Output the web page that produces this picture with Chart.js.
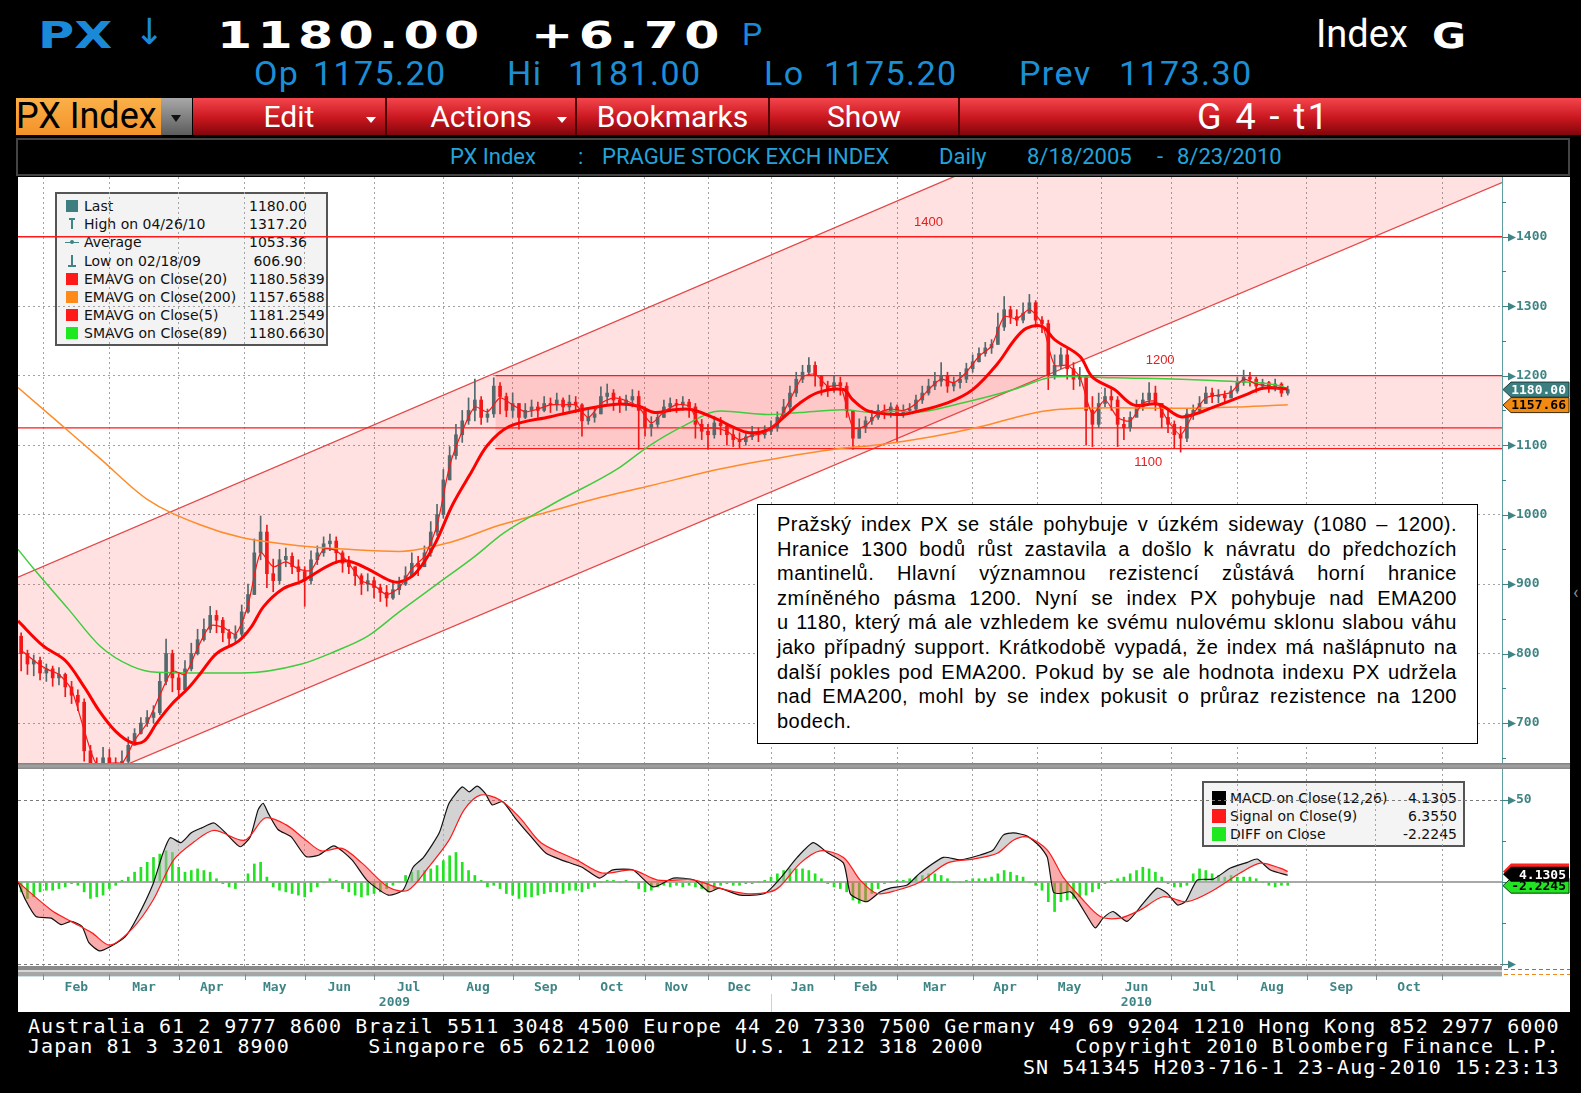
<!DOCTYPE html>
<html>
<head>
<meta charset="utf-8">
<title>PX Index - Bloomberg G</title>
<script src="https://cdn.jsdelivr.net/npm/chart.js@4.4.1/dist/chart.umd.min.js"></script>
<style>
  html, body { margin: 0; padding: 0; }
  body { width: 1581px; height: 1093px; background: #000; position: relative; overflow: hidden; font-family: Roboto, "Liberation Sans", sans-serif; }
  .t { position: absolute; white-space: pre; line-height: 1; }
  .big { font-family: "DejaVu Sans"; font-weight: bold; font-size: 38px; color: #fff; letter-spacing: 4px; transform-origin: 0 0; transform: scaleX(1.33); }
  .r2 { font-size: 34px; color: #1c8ed6; letter-spacing: 1.4px; top: 56px; }
  .btn { position: absolute; top: 98px; height: 37px; background: linear-gradient(#f4454c, #c8161e 55%, #80060b); border-right: 2px solid #4d0306; box-sizing: border-box; color: #fff; font-size: 30px; line-height: 37px; text-align: center; }
  .tri { position: absolute; top: 117px; width: 0; height: 0; border-left: 5px solid transparent; border-right: 5px solid transparent; border-top: 6px solid #fff; }
  .ttl { font-size: 22px; color: #23a3da; top: 146px; }
  .foot { position: absolute; left: 28px; color: #fff; font-family: "DejaVu Sans Mono", monospace; font-size: 20px; letter-spacing: 1.05px; line-height: 20px; white-space: pre; }
  .legend { position: absolute; background: #f3f3f3; border: 2px solid #555; box-sizing: border-box; font-family: "DejaVu Sans", sans-serif; font-size: 14px; color: #111; z-index: 1; }
  .lr { position: absolute; left: 0; right: 0; height: 18px; line-height: 18px; white-space: pre; }
  .ic { position: absolute; top: 3px; width: 12px; height: 12px; }
  #note { position: absolute; left: 757px; top: 504px; width: 721px; height: 240px; box-sizing: border-box; border: 1.5px solid #000; background: #fff; padding: 7px 19px 0 19px; z-index: 3; font: 20px/24.6px "Liberation Sans", Arial, sans-serif; letter-spacing: 0.5px; color: #000; }
  #note div { white-space: nowrap; }
  canvas { position: absolute; z-index: 2; }
</style>
</head>
<body>

<!-- quote header -->
<div class="t" style="left:38px;top:16px;font-family:'DejaVu Sans';font-weight:bold;font-size:38px;color:#1a8ad8;transform-origin:0 0;transform:scaleX(1.3)">PX</div>
<div class="t" style="left:134px;top:14px;font-family:'DejaVu Sans';font-size:36px;color:#1a8ad8">↓</div>
<div class="t big" style="left:217px;top:16px">1180.00</div>
<div class="t big" style="left:531px;top:16px">+6.70</div>
<div class="t" style="left:742px;top:18px;font-size:32px;color:#1a8ad8">P</div>
<div class="t" style="left:1316px;top:15px;font-size:38px;color:#fff">Index</div>
<div class="t" style="left:1432px;top:18px;font-family:'DejaVu Sans';font-weight:bold;font-size:36px;color:#fff;transform-origin:0 0;transform:scaleX(1.15)">G</div>

<div class="t r2" style="left:254px">Op</div>
<div class="t r2" style="left:313px">1175.20</div>
<div class="t r2" style="left:507px">Hi</div>
<div class="t r2" style="left:568px">1181.00</div>
<div class="t r2" style="left:764px">Lo</div>
<div class="t r2" style="left:824px">1175.20</div>
<div class="t r2" style="left:1019px">Prev</div>
<div class="t r2" style="left:1119px">1173.30</div>

<!-- menu bar -->
<div style="position:absolute;left:16px;top:98px;width:145px;height:37px;background:linear-gradient(#fbb048,#f4922a);color:#000;font-size:36px;line-height:37px;white-space:pre;overflow:hidden">PX Index</div>
<div style="position:absolute;left:161px;top:98px;width:31px;height:37px;background:linear-gradient(#a8a8a8,#5c5c5c);"></div>
<div style="position:absolute;left:171px;top:115px;width:0;height:0;border-left:5px solid transparent;border-right:5px solid transparent;border-top:7px solid #111"></div>
<div class="btn" style="left:193px;width:194px;">Edit</div>
<div class="tri" style="left:366px"></div>
<div class="btn" style="left:387px;width:190px;">Actions</div>
<div class="tri" style="left:557px"></div>
<div class="btn" style="left:577px;width:193px;">Bookmarks</div>
<div class="btn" style="left:770px;width:190px;">Show</div>
<div class="btn" style="left:960px;width:621px;border-right:none;"></div>
<div class="t" style="left:1197px;top:99px;font-size:36px;color:#fff;letter-spacing:2.5px;line-height:37px">G 4 - t1</div>

<!-- title bar -->
<div style="position:absolute;left:16px;top:138px;width:1554px;height:38px;box-sizing:border-box;border:2px solid #444;background:#000"></div>
<div class="t ttl" style="left:450px">PX Index</div>
<div class="t ttl" style="left:578px">:</div>
<div class="t ttl" style="left:602px">PRAGUE STOCK EXCH INDEX</div>
<div class="t ttl" style="left:939px">Daily</div>
<div class="t ttl" style="left:1027px">8/18/2005</div>
<div class="t ttl" style="left:1157px">-</div>
<div class="t ttl" style="left:1177px">8/23/2010</div>

<!-- chart area background -->
<div style="position:absolute;left:18px;top:177px;width:1552px;height:835px;background:#fff;z-index:0"></div>
<div class="t" style="left:1573px;top:583px;font-size:18px;color:#888">‹</div>

<div id="legMain" class="legend" style="left:55px;top:192px;width:273px;height:154px"></div>
<div id="legMacd" class="legend" style="left:1202px;top:781px;width:263px;height:66px;background:#f4f4f4"></div>

<canvas id="main" width="1552" height="586" style="left:18px;top:177px"></canvas>
<div style="position:absolute;left:18px;top:763px;width:1552px;height:6px;background:linear-gradient(#7e7e7e,#a4a4a4,#868686);z-index:3"></div>
<canvas id="macd" width="1552" height="243" style="left:18px;top:769px"></canvas>

<div id="note">
<div><span>Pražský index PX se stále pohybuje v úzkém sideway (1080 – 1200).</span></div>
<div><span>Hranice 1300 bodů růst zastavila a došlo k návratu do předchozích</span></div>
<div><span>mantinelů. Hlavní významnou rezistencí zůstává horní hranice</span></div>
<div><span>zmíněného pásma 1200. Nyní se index PX pohybuje nad EMA200</span></div>
<div><span>u 1180, který má ale vzhledem ke svému nulovému sklonu slabou váhu</span></div>
<div><span>jako případný support. Krátkodobě vypadá, že index má našlápnuto na</span></div>
<div><span>další pokles pod EMA200. Pokud by se ale hodnota indexu PX udržela</span></div>
<div><span>nad EMA200, mohl by se index pokusit o průraz rezistence na 1200</span></div>
<div class="last"><span>bodech.</span></div>
</div>

<!-- footer -->
<div class="foot" style="top:1016px">Australia 61 2 9777 8600 Brazil 5511 3048 4500 Europe 44 20 7330 7500 Germany 49 69 9204 1210 Hong Kong 852 2977 6000</div>
<div class="foot" style="top:1036px">Japan 81 3 3201 8900      Singapore 65 6212 1000      U.S. 1 212 318 2000       Copyright 2010 Bloomberg Finance L.P.</div>
<div class="foot" style="top:1057px">                                                                            SN 541345 H203-716-1 23-Aug-2010 15:23:13</div>

<script>
// x axis unit: trading days counted from the left edge of the plot (about 20 Jan 2009)
const xMax = 471;
const monthStarts = [8, 29, 51, 72, 91, 113, 135, 157, 178, 199, 219, 239, 259, 279, 303, 323.5, 344, 366, 387, 409, 431, 452];
const monthNames = ['Feb', 'Mar', 'Apr', 'May', 'Jun', 'Jul', 'Aug', 'Sep', 'Oct', 'Nov', 'Dec',
                    'Jan', 'Feb', 'Mar', 'Apr', 'May', 'Jun', 'Jul', 'Aug', 'Sep', 'Oct'];
const yearNames = ['2009', '2010'];
const yearDays = [119.5, 355];
const yearBreak = 239;

// candles, one every 2 trading days
const startDay = 1;
const dayStep = 2;
const firstOpen = 825;
const closes = [
  800, 785, 790, 772, 778, 765, 770, 752, 740, 730,
  660, 640, 625, 650, 640, 632, 645, 668, 685, 700,
  708, 715, 760, 800, 765, 748, 778, 800, 820, 835,
  855, 848, 830, 822, 828, 860, 885, 945, 975, 915,
  905, 935, 940, 925, 918, 905, 935, 945, 958, 962,
  945, 930, 925, 912, 900, 905, 895, 888, 880, 892,
  900, 912, 930, 925, 945, 975, 1000, 1050, 1085, 1115,
  1135, 1150, 1165, 1140, 1145, 1185, 1170, 1150, 1160, 1140,
  1150, 1155, 1150, 1160, 1158, 1165, 1155, 1162, 1158, 1135,
  1140, 1145, 1170, 1175, 1165, 1160, 1165, 1170, 1150, 1125,
  1130, 1140, 1155, 1160, 1158, 1162, 1155, 1130, 1120, 1115,
  1132, 1128, 1115, 1108, 1105, 1112, 1118, 1115, 1120, 1125,
  1140, 1155, 1175, 1195, 1205, 1215, 1200, 1185, 1180, 1190,
  1185, 1150, 1110, 1125, 1135, 1140, 1150, 1148, 1155, 1145,
  1150, 1152, 1165, 1175, 1185, 1192, 1200, 1185, 1190, 1195,
  1210, 1220, 1232, 1240, 1245, 1270, 1295, 1285, 1280, 1290,
  1305, 1280, 1275, 1200, 1215, 1230, 1210, 1195, 1200, 1150,
  1130, 1160, 1170, 1165, 1130, 1125, 1140, 1155, 1165, 1175,
  1160, 1140, 1130, 1115, 1110, 1145, 1150, 1160, 1175, 1170,
  1172, 1168, 1178, 1190, 1198, 1195, 1185, 1190, 1182, 1188,
  1175, 1180
];
const highs = [
  830, 805, 798, 795, 785, 782, 780, 772, 760, 748,
  735, 668, 650, 665, 662, 650, 660, 680, 692, 708,
  718, 725, 773, 821, 805, 772, 790, 815, 835, 850,
  868, 862, 852, 835, 840, 870, 900, 965, 998, 985,
  936, 950, 952, 945, 935, 925, 948, 955, 968, 972,
  968, 948, 940, 925, 915, 915, 910, 900, 898, 905,
  910, 925, 945, 940, 955, 990, 1015, 1065, 1098, 1130,
  1150, 1168, 1195, 1170, 1152, 1197, 1190, 1175, 1175, 1160,
  1160, 1165, 1162, 1170, 1168, 1175, 1168, 1172, 1170, 1160,
  1152, 1155, 1184, 1188, 1180, 1170, 1172, 1180, 1178, 1155,
  1141, 1148, 1165, 1168, 1166, 1170, 1166, 1160, 1137, 1130,
  1141, 1140, 1130, 1123, 1118, 1120, 1127, 1125, 1128, 1135,
  1148, 1166, 1185, 1205, 1215, 1226, 1220, 1200, 1192, 1199,
  1198, 1190, 1150, 1138, 1141, 1150, 1158, 1158, 1161, 1158,
  1158, 1160, 1172, 1185, 1195, 1205, 1219, 1205, 1198, 1205,
  1218, 1230, 1240, 1248, 1252, 1290, 1314, 1300, 1295, 1305,
  1317, 1308, 1285, 1280, 1230, 1240, 1238, 1219, 1212, 1200,
  1170, 1175, 1182, 1180, 1170, 1140, 1148, 1165, 1175, 1190,
  1185, 1160, 1150, 1135, 1127, 1152, 1158, 1170, 1184, 1182,
  1180, 1178, 1185, 1198, 1208, 1205, 1198, 1195, 1192, 1195,
  1190, 1185
];
const lows = [
  775, 770, 768, 762, 760, 753, 755, 738, 728, 718,
  645, 607, 612, 618, 625, 618, 628, 642, 668, 684,
  695, 700, 712, 755, 745, 735, 745, 775, 798, 818,
  830, 830, 817, 812, 815, 825, 858, 885, 935, 895,
  889, 900, 925, 915, 905, 868, 900, 928, 940, 948,
  930, 917, 915, 898, 885, 890, 880, 875, 868, 878,
  885, 898, 910, 912, 925, 940, 970, 995, 1050, 1080,
  1104, 1130, 1135, 1130, 1133, 1140, 1145, 1141, 1140, 1123,
  1138, 1141, 1140, 1148, 1147, 1150, 1145, 1150, 1147, 1113,
  1130, 1133, 1145, 1160, 1150, 1147, 1150, 1155, 1094, 1113,
  1113, 1125, 1140, 1148, 1147, 1150, 1140, 1110, 1108, 1094,
  1110, 1115, 1100, 1098, 1095, 1100, 1108, 1105, 1110, 1115,
  1120, 1140, 1150, 1170, 1190, 1200, 1185, 1172, 1170, 1176,
  1172, 1140, 1094, 1110, 1118, 1130, 1137, 1138, 1140, 1104,
  1140, 1145, 1150, 1160, 1172, 1180, 1185, 1176, 1178, 1182,
  1190, 1205, 1220, 1228, 1232, 1245, 1265, 1275, 1272, 1276,
  1290, 1270, 1262, 1180, 1195, 1210, 1195, 1180, 1185, 1100,
  1098, 1125, 1155, 1150, 1098, 1108, 1120, 1145, 1150, 1160,
  1150, 1125, 1118, 1095, 1090, 1105, 1137, 1145, 1160, 1161,
  1161, 1160, 1168, 1175, 1186, 1185, 1176, 1180, 1176, 1178,
  1170, 1172
];

// moving averages
const ema5Start = 1;
const ema5Step = 4;
const ema5 = [
  805, 790, 778, 770, 748, 690, 640, 642, 642, 675,
  700, 740, 775, 770, 808, 840, 838, 828, 870, 945,
  925, 932, 922, 920, 950, 948, 930, 905, 898, 885,
  895, 922, 940, 985, 1070, 1120, 1155, 1148, 1168, 1158,
  1148, 1152, 1158, 1158, 1158, 1140, 1160, 1168, 1164, 1155,
  1132, 1148, 1158, 1156, 1125, 1125, 1120, 1108, 1114, 1118,
  1133, 1165, 1198, 1202, 1185, 1185, 1125, 1128, 1146, 1152,
  1150, 1160, 1180, 1195, 1190, 1205, 1228, 1243, 1285, 1282,
  1295, 1275, 1215, 1215, 1198, 1145, 1165, 1140, 1135, 1160,
  1163, 1135, 1115, 1145, 1168, 1172, 1176, 1195, 1188, 1185,
  1180
];
const ema20Days = [0, 8, 15, 21, 26, 31, 36, 40, 44, 49, 54, 58, 63, 70, 74, 78, 84, 90, 100, 105,
  111, 118, 121, 126, 132, 138, 144, 149, 156, 169, 179, 190, 197, 202, 208, 214, 222, 227, 232, 238,
  243, 248, 254, 262, 265, 270, 280, 284, 295, 303, 311, 316, 320, 325, 329, 337, 341, 348, 354, 362,
  369, 375, 379, 390, 395, 403];
const ema20 = [847, 811, 790, 752, 716, 688, 672, 674, 700, 728, 750, 772, 800, 818, 838, 868, 893, 904, 930, 933,
  922, 905, 903, 915, 955, 1015, 1062, 1100, 1127, 1141, 1151, 1159, 1156, 1147, 1151, 1151, 1137, 1126, 1118, 1122,
  1140, 1160, 1176, 1180, 1165, 1149, 1144, 1147, 1161, 1180, 1218, 1250, 1268, 1271, 1252, 1228, 1198, 1180, 1158, 1159,
  1141, 1147, 1154, 1173, 1182, 1181];
const sma89Days = [0, 5, 16, 26, 36, 44, 58, 71, 90, 100, 111, 121, 133, 145, 154, 170, 190, 200, 211, 223,
  238, 248, 262, 271, 280, 284, 300, 316, 327, 333, 348, 369, 385, 401, 403];
const sma89 = [950, 922, 864, 811, 782, 773, 772, 772, 785, 802, 825, 860, 900, 940, 973, 1016, 1065, 1098, 1127, 1149,
  1144, 1147, 1151, 1147, 1149, 1147, 1161, 1180, 1197, 1199, 1197, 1195, 1192, 1185, 1181];
const ema200Days = [0, 13, 26, 41, 58, 71, 90, 105, 121, 137, 153, 169, 185, 201, 222, 242, 259, 274, 290, 305,
  321, 329, 348, 369, 388, 403];
const ema200 = [1183, 1132, 1081, 1022, 985, 967, 955, 950, 947, 960, 985, 1005, 1025, 1042, 1065, 1082, 1094, 1101, 1112, 1126,
  1145, 1151, 1154, 1153, 1155, 1158];

// hand-drawn analysis lines
const channelDays = [0, 471];
const channelUpper = [910, 1824];
const channelLower = [574, 1478];
const topLine = [1400, 1400];
const supportLine = [1125, 1125];
const rangeDays = [151.5, 471];
const rangeTop = [1200, 1200];
const rangeBottom = [1095, 1095];
const levelLabels = ['1400', '1200', '1100'];
const levelLabelDays = [289, 362.5, 358.7];
const levelLabelVals = [1420, 1222, 1075];

const priceTicks = [650, 700, 750, 800, 850, 900, 950, 1000, 1050, 1100, 1150, 1200, 1250, 1300, 1350, 1400, 1450];
const priceMin = 642.5, priceMax = 1486;
const lastPrice = 1180.00, lastEma200 = 1157.66;

// MACD panel
const macdDays = [0, 2.4, 5.7, 10.5, 13.7, 16.8, 20.3, 22.5, 25.9, 29.2, 34, 38, 42.9, 46, 48.3, 51.7, 55, 58.3, 62.2, 65.6,
  70.5, 73.7, 76.2, 77.8, 79.4, 82.5, 86.7, 91.4, 95.6, 100.3, 106, 110.8, 117.5, 122.2, 125.4, 128.7, 133.7, 136.8, 141, 143.2,
  145.7, 148.3, 150.5, 153.8, 157.8, 162.9, 167.6, 172.4, 179, 184.6, 188.6, 195.2, 201.6, 208, 214.6, 219.4, 222.5, 229.2, 237, 242,
  247.3, 252.4, 256.8, 262, 264.1, 266.3, 269.5, 273.7, 276.8, 282.2, 286.3, 293.7, 299, 305.4, 309.5, 312.7, 315.9, 320.3, 324.4, 326.7,
  328.6, 330.8, 334, 336.2, 339.4, 341.9, 344.4, 347.6, 352, 357.1, 361.6, 364.8, 368, 370.5, 374.3, 379.4, 384.8, 390.2, 393.3, 397.5,
  403];
const macd = [0, -11, -21, -22, -26, -24, -27, -37, -42, -39.5, -33.5, -21, -1, 17.5, 27, 24, 30, 33, 36, 30.5,
  21.5, 27.5, 44, 48, 42, 32, 27.5, 15.5, 16.5, 22, 13.5, 1, -8, -5, 9, 15, 30, 48, 58, 55,
  58.5, 54, 47, 49, 39, 27.5, 17.5, 13.5, 9, 2.4, 7.3, 7.3, -3, 2.4, 1.2, -6, -3.7, -8, -7, 2.4,
  15, 24, 18, 11.5, -7, -10, -12, -6, -3.7, -1.8, 5.5, 15, 13.5, 16.5, 19.5, 28.6, 30, 28, 21.5, 15,
  -6, -7, -6, -11, -21, -28, -22, -18, -24, -13, -3.7, -7, -14, -12, 1.2, 1.8, 8.5, 12, 14, 7.3,
  4.1];
const signalDays = [0, 10.5, 16.8, 23.5, 29.2, 36.5, 42.9, 49.4, 55.9, 62.2, 72, 78.4, 85, 91.4, 96.2, 102.9, 109.2, 117.5, 123.8, 130.3,
  136.8, 141.6, 146.7, 153, 159.4, 166, 177.3, 185.4, 195.2, 203, 214.6, 222.5, 230.8, 238.7, 242, 248.3, 254.6, 262, 267.3, 272.7,
  279, 286.3, 294.9, 303.2, 310.8, 315.9, 320.3, 326.7, 331.7, 337.1, 343.5, 349.8, 356.2, 363.5, 371.1, 379.4, 387.9, 394.3, 400.6, 403];
const signal = [0, -17, -24, -31, -38.5, -28, -11, 13.5, 24.5, 31.5, 25.5, 39, 35, 25.5, 19, 20.5, 11.5, -3, -5, 9,
  25.5, 44, 53, 50, 39, 24, 13.5, 5.5, 7.3, 1.2, 1.2, -3.7, -7, -6, -2.4, 11.5, 19, 15, 1.2, -7,
  -5, 0, 11.5, 14, 17.5, 25.5, 27.5, 19.5, 3, -9, -21, -22, -17, -9, -12, -5, 5.5, 11.5, 8.5, 6.4];
// DIFF histogram, same day grid as the candles
const diff = [
  -6, -10, -9, -6, -5, -5, -4, -3, -1, -2,
  -6, -10, -9, -8, -4, -2, 1, 3, 6, 9,
  12, 15, 17, 19, 18, 9, 6, 7, 8, 7,
  6, 2, -1, -3, -4, 0, 5, 11, 12, 3,
  -3, -5, -6, -7, -8, -9, -6, -3, 0, 2,
  1, -4, -6, -8, -9, -8, -7, -6, -4, -2,
  0, 4, 6, 7, 7, 8, 10, 13, 16, 18,
  12, 7, 4, 1, -3, -2, -4, -7, -8, -10,
  -9, -9, -8, -7, -6, -6, -7, -5, -5, -6,
  -4, -3, 0, 1, 1, 0, 1, 0, -4, -6,
  -5, -3, -2, -3, -2, -3, -2, -3, -4, -6,
  -4, -2, -1, -2, -2, -1, -1, 0, 1, 3,
  5, 7, 8, 8, 8, 7, 5, 2, -1, -3,
  -4, -6, -11, -13, -12, -7, -4, -1, 0, 1,
  1, 2, 3, 4, 5, 5, 4, 2, 0, 0,
  1, 2, 2, 2, 3, 5, 7, 6, 4, 3,
  0, -2, -5, -12, -18, -12, -11, -10, -9, -8,
  -6, -4, -1, 1, 2, 3, 5, 7, 9, 8,
  6, 3, -1, -3, -3, -2, 5, 8, 7, 5,
  4, 3, 4, 3, 3, 3, 2, 0, -2, -3,
  -2, -2
];
const macdTicks = [-50, -25, 0, 25, 50];
const macdMin = -51.2, macdMax = 68.9;
const lastMacd = 4.1305, lastSignal = 6.3550, lastDiff = -2.2245;

// legends
const mainLegendNames = ['Last', 'High on 04/26/10', 'Average', 'Low on 02/18/09', 'EMAVG on Close(20)',
  'EMAVG on Close(200)', 'EMAVG on Close(5)', 'SMAVG on Close(89)'];
const mainLegendValues = ['1180.00', '1317.20', '1053.36', ' 606.90', '1180.5839', '1157.6588', '1181.2549', '1180.6630'];
const mainLegendIcons = ['sq:#3d7f80', 'hi', 'avg', 'lo', 'sq:#ff1a1a', 'sq:#ff8a1a', 'sq:#ff1a1a', 'sq:#1ee81e'];
const macdLegendNames = ['MACD on Close(12,26)', 'Signal on Close(9)', 'DIFF on Close'];
const macdLegendValues = ['4.1305', '6.3550', '-2.2245'];
const macdLegendColors = ['#000000', '#ff1a1a', '#1ee81e'];

// ---------- comment box: spread every full line over the box width ----------
const noteWidth = 680;
document.querySelectorAll('#note div:not(.last)').forEach(div => {
  const span = div.firstElementChild;
  const gaps = (span.textContent.match(/ /g) || []).length;
  const w = span.getBoundingClientRect().width;
  if (gaps) div.style.wordSpacing = ((noteWidth - w) / gaps) + 'px';
});

// ---------- legends (html) ----------
const teal = '#3f8585';
function iconHtml(kind) {
  if (kind.startsWith('sq:')) return '<span class="ic" style="left:9px;background:' + kind.slice(3) + '"></span>';
  if (kind === 'hi') return '<span class="ic" style="left:12px;width:6px;height:2px;top:3px;background:' + teal + '"></span>' +
    '<span class="ic" style="left:14px;width:2px;height:10px;top:4px;background:' + teal + '"></span>';
  if (kind === 'lo') return '<span class="ic" style="left:14px;width:2px;height:10px;top:3px;background:' + teal + '"></span>' +
    '<span class="ic" style="left:11px;width:8px;height:2px;top:13px;background:' + teal + '"></span>';
  return '<span class="ic" style="left:8px;width:14px;height:1px;top:9px;background:' + teal + '"></span>' +
    '<span class="ic" style="left:13px;width:4px;height:4px;top:7px;border-radius:2px;background:' + teal + '"></span>';
}
document.getElementById('legMain').innerHTML = mainLegendNames.map((n, i) =>
  '<div class="lr" style="top:' + (3 + i * 18.2) + 'px">' + iconHtml(mainLegendIcons[i]) +
  '<span style="position:absolute;left:27px">' + n + '</span>' +
  '<span style="position:absolute;left:192px">' + mainLegendValues[i] + '</span></div>').join('');
document.getElementById('legMacd').innerHTML = macdLegendNames.map((n, i) =>
  '<div class="lr" style="top:' + (6 + i * 18) + 'px">' +
  '<span class="ic" style="left:8px;top:2px;width:14px;height:14px;background:' + macdLegendColors[i] + '"></span>' +
  '<span style="position:absolute;left:26px">' + n + '</span>' +
  '<span style="position:absolute;right:6px">' + macdLegendValues[i] + '</span></div>').join('');

// ---------- helpers ----------
const pts = (xs, ys) => ys.map((y, i) => ({ x: xs[i], y: y }));
const stepDays = (n, start, step) => Array.from({ length: n }, (_, i) => start + i * step);
const line = (xs, ys, color, width, extra) => Object.assign({
  type: 'line', data: pts(xs, ys), borderColor: color, borderWidth: width,
  pointRadius: 0, pointHitRadius: 0, fill: false
}, extra || {});

const gridGrey = '#a2a2a2';
function monthAxis(height) {
  return {
    type: 'linear', min: 0, max: xMax, offset: false,
    afterBuildTicks: s => { s.ticks = monthStarts.map(v => ({ value: v })); },
    afterFit: s => { s.height = height; s.paddingLeft = 0; s.paddingRight = 0; },
    ticks: { display: false },
    grid: { color: gridGrey, lineWidth: 1, drawTicks: false, offset: false },
    border: { display: false, dash: [2, 3] }
  };
}

function drawTag(ctx, x0, x1, yc, h, bg, fg, text, edge) {
  ctx.beginPath();
  ctx.moveTo(x0, yc);
  ctx.lineTo(x0 + 8, yc - h / 2);
  ctx.lineTo(x1, yc - h / 2);
  ctx.lineTo(x1, yc + h / 2);
  ctx.lineTo(x0 + 8, yc + h / 2);
  ctx.closePath();
  ctx.fillStyle = bg;
  ctx.fill();
  if (edge) { ctx.strokeStyle = edge; ctx.lineWidth = 1; ctx.stroke(); }
  ctx.fillStyle = fg;
  ctx.font = 'bold 13px "DejaVu Sans Mono", monospace';
  ctx.textAlign = 'right';
  ctx.textBaseline = 'middle';
  ctx.fillText(text, x1 - 3, yc + 1);
}

function axisMarks(ctx, a, scale, values, labelled, chartH) {
  ctx.strokeStyle = '#5f9f9f';
  ctx.lineWidth = 1;
  ctx.beginPath();
  ctx.moveTo(a.right + 0.5, 0);
  ctx.lineTo(a.right + 0.5, chartH);
  ctx.stroke();
  values.forEach(v => {
    const py = Math.round(scale.getPixelForValue(v)) + 0.5;
    ctx.strokeStyle = teal;
    ctx.fillStyle = teal;
    if (labelled(v)) {
      ctx.beginPath();
      ctx.moveTo(a.right, py);
      ctx.lineTo(a.right + 8, py);
      ctx.stroke();
      ctx.beginPath();
      ctx.moveTo(a.right + 6, py - 4);
      ctx.lineTo(a.right + 14, py);
      ctx.lineTo(a.right + 6, py + 4);
      ctx.closePath();
      ctx.fill();
    } else {
      ctx.beginPath();
      ctx.moveTo(a.right, py);
      ctx.lineTo(a.right + 4, py);
      ctx.stroke();
    }
  });
}

const baseOptions = {
  responsive: false, animation: false, devicePixelRatio: 1, events: [],
  layout: { padding: 0, autoPadding: false },
  plugins: { legend: { display: false }, tooltip: { enabled: false } }
};

// ---------- main price panel ----------
const candleDays = stepDays(closes.length, startDay, dayStep);
const opens = closes.map((c, i) => (i ? closes[i - 1] : firstOpen));
const candleCol = c => (closes[c.dataIndex] >= opens[c.dataIndex] ? '#53696c' : '#f01818');
const ema5Days = stepDays(ema5.length, ema5Start, ema5Step);
const isPriceLabel = v => v % 100 === 0 && v >= 700 && v <= 1400;

const mainDecor = {
  id: 'mainDecor',
  afterDatasetsDraw(chart) {
    const { ctx, scales: { x, y } } = chart;
    ctx.save();
    ctx.font = '13px "Liberation Sans", Arial, sans-serif';
    ctx.fillStyle = '#e22020';
    ctx.textAlign = 'center';
    ctx.textBaseline = 'middle';
    levelLabels.forEach((t, i) => ctx.fillText(t, x.getPixelForValue(levelLabelDays[i]), y.getPixelForValue(levelLabelVals[i])));
    ctx.restore();
  },
  afterDraw(chart) {
    const { ctx, chartArea: a, scales: { y } } = chart;
    ctx.save();
    axisMarks(ctx, a, y, priceTicks, isPriceLabel, chart.height);
    drawTag(ctx, a.right + 1, chart.width - 1, y.getPixelForValue(lastEma200), 15, '#f28a12', '#000', lastEma200.toFixed(2), '#3a2a10');
    drawTag(ctx, a.right + 1, chart.width - 1, y.getPixelForValue(lastPrice), 15, '#3b7f80', '#fff', lastPrice.toFixed(2), '#1d3c3c');
    ctx.restore();
  }
};

new Chart(document.getElementById('main'), {
  type: 'line',
  data: {
    datasets: [
      line(channelDays, channelUpper, '#e24a4a', 1.3, { order: 20 }),
      line(channelDays, channelLower, '#e24a4a', 1.3, { order: 19, fill: '-1', backgroundColor: 'rgba(255,40,40,0.14)' }),
      line(rangeDays, rangeTop, '#ff1a1a', 1.3, { order: 18 }),
      line(rangeDays, rangeBottom, '#ff1a1a', 1.3, { order: 17, fill: '-1', backgroundColor: 'rgba(255,40,40,0.14)' }),
      line(channelDays, topLine, '#ff1a1a', 1.3, { order: 16 }),
      line(channelDays, supportLine, '#ff1a1a', 1.3, { order: 15 }),
      { type: 'bar', data: candleDays.map((d, i) => ({ x: d, y: [lows[i], highs[i]] })), backgroundColor: candleCol,
        barThickness: 1, grouped: false, order: 8 },
      { type: 'bar', data: candleDays.map((d, i) => ({ x: d, y: [opens[i], closes[i]] })), backgroundColor: candleCol,
        barThickness: 3, minBarLength: 1, grouped: false, order: 7 },
      line(ema200Days, ema200, '#ff8c2a', 1.5, { order: 4, cubicInterpolationMode: 'monotone' }),
      line(sma89Days, sma89, '#3fcc3f', 1.5, { order: 3, cubicInterpolationMode: 'monotone' }),
      line(ema20Days, ema20, '#ff0000', 3, { order: 2, tension: 0.35 }),
      line(ema5Days, ema5, '#ff1414', 1.2, { order: 1, tension: 0.25 })
    ]
  },
  options: Object.assign({}, baseOptions, {
    scales: {
      x: monthAxis(0),
      y: {
        type: 'linear', position: 'right', min: priceMin, max: priceMax,
        afterBuildTicks: s => { s.ticks = priceTicks.map(v => ({ value: v })); },
        afterFit: s => { s.width = 68; s.paddingTop = 0; s.paddingBottom = 0; },
        ticks: { color: teal, padding: 14, font: { family: '"DejaVu Sans Mono"', weight: 'bold', size: 13 },
                 callback: v => (isPriceLabel(v) ? String(v) : '') },
        grid: { color: c => (c.tick && c.tick.value % 100 === 0 ? gridGrey : 'rgba(0,0,0,0)'), drawTicks: false },
        border: { display: false, dash: [2, 3] }
      }
    }
  }),
  plugins: [mainDecor]
});

// ---------- MACD panel ----------
const macdDecor = {
  id: 'macdDecor',
  afterDraw(chart) {
    const { ctx, chartArea: a, scales: { x, y } } = chart;
    ctx.save();
    // bottom rails of the panel
    ctx.fillStyle = '#8a8a8a'; ctx.fillRect(0, a.bottom, a.right, 4);
    ctx.fillStyle = '#d6d6d6'; ctx.fillRect(0, a.bottom + 4, a.right, 2);
    ctx.fillStyle = '#a6a6a6'; ctx.fillRect(0, a.bottom + 6, a.right, 4);
    ctx.fillStyle = '#cfe0e0'; ctx.fillRect(0, a.bottom + 10, a.right, 1);
    ctx.strokeStyle = '#777'; ctx.setLineDash([4, 3]);
    ctx.beginPath(); ctx.moveTo(a.right + 2, a.bottom + 3.5); ctx.lineTo(chart.width, a.bottom + 3.5); ctx.stroke();
    ctx.strokeStyle = '#f08a20';
    ctx.beginPath(); ctx.moveTo(a.right + 2, a.bottom + 8.5); ctx.lineTo(chart.width, a.bottom + 8.5); ctx.stroke();
    ctx.setLineDash([]);
    ctx.strokeStyle = '#8a8a8a';
    monthStarts.forEach(d => {
      const px = Math.round(x.getPixelForValue(d)) + 0.5;
      ctx.beginPath(); ctx.moveTo(px, a.bottom + 8); ctx.lineTo(px, a.bottom + 14); ctx.stroke();
    });
    // month and year labels
    ctx.fillStyle = teal;
    ctx.font = 'bold 13px "DejaVu Sans Mono", monospace';
    ctx.textAlign = 'center';
    ctx.textBaseline = 'middle';
    monthNames.forEach((m, i) => {
      ctx.fillText(m, x.getPixelForValue((monthStarts[i] + monthStarts[i + 1]) / 2), a.bottom + 22);
    });
    yearNames.forEach((t, i) => ctx.fillText(t, x.getPixelForValue(yearDays[i]), a.bottom + 37));
    const yb = Math.round(x.getPixelForValue(yearBreak)) + 0.5;
    ctx.strokeStyle = '#d0d0d0';
    ctx.beginPath(); ctx.moveTo(yb, a.bottom + 28); ctx.lineTo(yb, chart.height); ctx.stroke();
    // y axis
    axisMarks(ctx, a, y, macdTicks, v => Math.abs(v) === 50, a.bottom);
    drawTag(ctx, a.right + 1, chart.width - 1, y.getPixelForValue(lastSignal), 16, '#ff2020', '#000', lastSignal.toFixed(4), null);
    drawTag(ctx, a.right + 1, chart.width - 1, y.getPixelForValue(lastDiff), 15, '#22e422', '#000', lastDiff.toFixed(4), '#0c3a0c');
    drawTag(ctx, a.right + 1, chart.width - 1, y.getPixelForValue(lastMacd) - 1, 15, '#000', '#fff', lastMacd.toFixed(4), null);
    ctx.restore();
  }
};

new Chart(document.getElementById('macd'), {
  type: 'line',
  data: {
    datasets: [
      { type: 'bar', data: pts(candleDays, diff), backgroundColor: '#22e222', barThickness: 2, grouped: false, order: 3 },
      line(signalDays, signal, '#ff1a1a', 1.2, { order: 1, tension: 0.3 }),
      line(macdDays, macd, '#111111', 1.2, { order: 2, tension: 0.2,
        fill: { target: 1, above: 'rgba(175,175,175,0.55)', below: 'rgba(245,90,90,0.5)' } })
    ]
  },
  options: Object.assign({}, baseOptions, {
    scales: {
      x: monthAxis(46),
      y: {
        type: 'linear', position: 'right', min: macdMin, max: macdMax,
        afterBuildTicks: s => { s.ticks = macdTicks.map(v => ({ value: v })); },
        afterFit: s => { s.width = 68; s.paddingTop = 0; s.paddingBottom = 0; },
        ticks: { color: teal, padding: 14, font: { family: '"DejaVu Sans Mono"', weight: 'bold', size: 13 },
                 callback: v => (v === 50 ? '50' : '') },
        grid: {
          color: c => (!c.tick ? 'rgba(0,0,0,0)' : c.tick.value === 0 ? '#a8a8a8' : Math.abs(c.tick.value) === 50 ? '#7a7a7a' : 'rgba(0,0,0,0)'),
          lineWidth: c => (c.tick && c.tick.value === 0 ? 2 : 1),
          drawTicks: false
        },
        border: { display: false, dash: c => (c.tick && c.tick.value === 0 ? [] : [3, 3]) }
      }
    }
  }),
  plugins: [macdDecor]
});
</script>
</body>
</html>
